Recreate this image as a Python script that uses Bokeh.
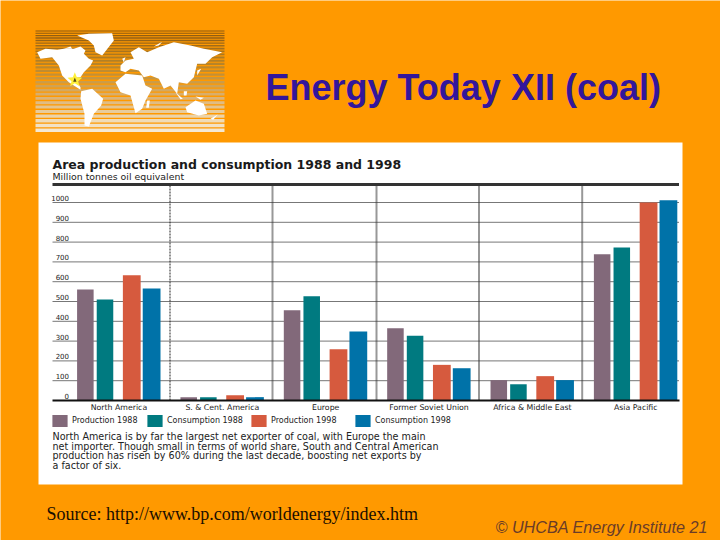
from bokeh.plotting import figure
from bokeh.core.properties import value
from bokeh.models import FixedTicker, Legend, LegendItem, LinearAxis, Range1d
from bokeh.embed import file_html
from bokeh.resources import INLINE

# ---- chart data -------------------------------------------------------
regions = ["North America", "S. & Cent. America", "Europe",
           "Former Soviet Union", "Africa & Middle East", "Asia Pacific"]
production_1988 = [560, 17, 456, 365, 103, 739]
consumption_1988 = [510, 17, 527, 327, 82, 773]
production_1998 = [632, 27, 259, 180, 123, 1000]
consumption_1998 = [566, 17, 348, 163, 103, 1011]
y_ticks = [0, 100, 200, 300, 400, 500, 600, 700, 800, 900, 1000]
series_names = ["Production 1988", "Consumption 1988", "Production 1998", "Consumption 1998"]

chart_title = "Area production and consumption 1988 and 1998"
chart_subtitle = "Million tonnes oil equivalent"
body_lines = [
    "North America is by far the largest net exporter of coal, with Europe the main",
    "net importer. Though small in terms of world share, South and Central American",
    "production has risen by 60% during the last decade, boosting net exports by",
    "a factor of six.",
]

# ---- style ------------------------------------------------------------
ORANGE = "#FF9900"
COLORS = ["#82697A", "#007A80", "#D65A3E", "#0072A8"]
OFFSETS = [-0.325, -0.135, 0.124, 0.316]
WIDTHS = [0.16, 0.16, 0.172, 0.172]
LEGEND_PX = [52, 147, 251, 355]
PX_X0, PX_DX = 118.45, 103.36
PX_Y0, PX_DY = 400.0, 0.198


def X(px):
    return (px - PX_X0) / PX_DX


def Y(py):
    return (PX_Y0 - py) / PX_DY


p = figure(width=720, height=540, output_backend="svg", toolbar_location=None,
           x_range=Range1d(X(0), X(720)), y_range=Range1d(Y(540), Y(0)),
           x_axis_location=None, y_axis_location=None,
           min_border_left=0, min_border_right=0, min_border_top=0, min_border_bottom=0)
p.background_fill_color = ORANGE
p.border_fill_color = ORANGE
p.outline_line_color = None
p.xgrid.visible = False
p.ygrid.visible = False


def box(l, t, r, b, color):
    p.quad(left=[X(l)], right=[X(r)], top=[Y(t)], bottom=[Y(b)], fill_color=color, line_color=None)


def text(s, px, py, size, font="DejaVu Sans", color="#222222", style="normal"):
    p.text(x=[X(px)], y=[Y(py)], text=[s], text_font=value(font), text_font_size=size, text_color=color,
           text_font_style=style, text_baseline="middle", text_align="left")


# ---- map emblem (decoration) ------------------------------------------
stripe_colors = ["#8C5A10", "#8E5C12", "#905E12", "#946014", "#986416", "#9C6818", "#A06C1A", "#A4701C",
                 "#A8741E", "#AC7820", "#B07C22", "#B48024", "#B88428", "#BC882C", "#C08C30", "#C49036",
                 "#C8963E", "#CC9C48", "#D0A254", "#D4A860", "#D8AE6C", "#DCB478", "#E0BC84", "#E4C490",
                 "#E8CC9C", "#ECD4AA", "#F0DCB8", "#F2E2C6", "#F4E8D2"]
yy = 30.0
for i, c in enumerate(stripe_colors):
    h = 1.0 + i * 0.09
    box(35, yy, 224, yy + h, c)
    yy += h + 0.85 + (0.35 if i < 12 else 0.5)

land = [
    [(20, 95), (45, 85), (80, 88), (100, 85), (130, 85), (150, 78), (165, 90), (160, 100), (175, 115), (188, 120),
     (180, 135), (160, 155), (150, 170), (130, 172), (150, 200), (150, 208), (130, 195), (115, 185), (95, 165),
     (85, 135), (65, 110), (30, 115)],
    [(152, 212), (185, 205), (218, 235), (212, 255), (190, 280), (175, 318), (162, 315), (162, 280), (150, 235)],
    [(140, 45), (175, 40), (245, 38), (250, 60), (215, 105), (195, 95), (190, 75), (175, 60)],
    [(270, 135), (285, 120), (310, 115), (300, 95), (325, 80), (350, 95), (385, 80), (430, 65), (480, 75), (520, 85),
     (575, 95), (545, 110), (525, 130), (500, 130), (490, 170), (470, 190), (445, 185), (440, 220), (420, 195),
     (400, 205), (385, 175), (360, 165), (340, 170), (325, 150), (300, 145), (285, 155), (270, 150)],
    [(255, 185), (285, 160), (335, 165), (345, 195), (365, 205), (345, 240), (335, 265), (315, 278), (300, 225),
     (270, 215)],
    [(465, 260), (495, 240), (520, 250), (530, 280), (505, 285), (470, 275)],
    [(350, 240), (358, 240), (355, 262), (347, 262)],
    [(500, 150), (512, 145), (500, 165)],
    [(275, 115), (285, 110), (280, 125)],
    [(460, 212), (470, 212), (468, 225), (460, 225)],
    [(540, 295), (562, 282), (548, 298)],
    [(370, 78), (395, 64), (385, 75)],
    [(435, 215), (457, 235), (450, 236)],
    [(495, 228), (520, 232), (510, 238)],
    [(100, 85), (120, 78), (125, 85)],
]


def poly(pts, color):
    p.patch(x=[X(30 + a / 3) for a, b in pts], y=[Y(20 + b / 3) for a, b in pts], fill_color=color, line_color=None)


for pts in land:
    poly(pts, "white")
poly([(133, 155), (139, 170), (155, 172), (143, 182), (147, 197), (133, 188), (119, 197), (123, 182), (111, 172),
      (127, 170)], "#FFF03A")
poly([(133, 171), (138, 184), (128, 184)], "#5A4A10")

# ---- chart panel ------------------------------------------------------
box(38, 142, 682, 484, "white")

p.segment(x0=[X(52)] * 10, x1=[X(678.5)] * 10, y0=y_ticks[1:], y1=y_ticks[1:], line_color="#777777", line_width=1)
for i, px in enumerate([169.5, 272, 376, 478.5, 581.7]):
    p.line(x=[X(px), X(px)], y=[0, Y(184)], line_color="#222222" if i == 0 else "#333333",
           line_width=1 if i == 0 else 2, line_dash="2 1" if i == 0 else "1 1")
p.line(x=[X(52), X(678.5)], y=[Y(184), Y(184)], line_color="#333333", line_width=3)

# axes drawn inside the panel
xaxis = LinearAxis(fixed_location=0, bounds=(X(52), X(678.5)), ticker=FixedTicker(ticks=list(range(len(regions)))),
                   major_label_overrides={i: r for i, r in enumerate(regions)},
                   major_tick_line_color=None, minor_tick_line_color=None,
                   major_tick_out=0, major_tick_in=0,
                   axis_line_color="#111111", axis_line_width=2, major_label_standoff=2,
                   major_label_text_font="DejaVu Sans", major_label_text_font_size="7.8px",
                   major_label_text_color="#222222")
p.add_layout(xaxis, "below")

label_lift = 4.5 / PX_DY  # tick labels sit just above their rules
p.extra_y_ranges["tick_labels"] = Range1d(Y(540) - label_lift, Y(0) - label_lift)
yaxis = LinearAxis(y_range_name="tick_labels", fixed_location=X(68.5), bounds=(0, 1000),
                   ticker=FixedTicker(ticks=y_ticks),
                   major_tick_line_color=None, minor_tick_line_color=None, axis_line_color=None,
                   major_tick_out=0, major_tick_in=0,
                   major_label_standoff=0, major_label_text_font="DejaVu Sans", major_label_text_font_size="7px",
                   major_label_text_color="#222222")
p.add_layout(yaxis, "left")

# bars
series = [production_1988, consumption_1988, production_1998, consumption_1998]
xs = list(range(len(regions)))
bars = []
for vals, off, w, col in zip(series, OFFSETS, WIDTHS, COLORS):
    bars.append(p.vbar(x=[i + off for i in xs], top=vals, bottom=0, width=w, fill_color=col, line_color=None))

# legend: one box per entry, placed where the reference has them
for px, name, r in zip(LEGEND_PX, series_names, bars):
    leg = Legend(items=[LegendItem(label=name, renderers=[r])], location=(px - 2, 540 - 428),
                 background_fill_alpha=0, border_line_color=None, padding=0, margin=0, spacing=0,
                 glyph_width=19, glyph_height=15, label_standoff=3, label_height=15,
                 label_text_font="DejaVu Sans", label_text_font_size="8px", label_text_color="#222222")
    p.add_layout(leg, "center")

# ---- texts ------------------------------------------------------------
text("Energy Today XII (coal)", 265, 86.5, "36px", "Liberation Sans", "#33169B", "bold")
text(chart_title, 52, 163.5, "12.5px", "DejaVu Sans", "#1A1A1A", "bold")
text(chart_subtitle, 52, 175.5, "9.4px")
for i, line in enumerate(body_lines):
    text(line, 52, 436 + 9.5 * i, "9.6px")
text("Source: http://www.bp.com/worldenergy/index.htm", 46, 513, "18px", "Liberation Serif", "#1A0E00")
text("\u00a9 UHCBA Energy Institute 21", 495, 526, "16.2px", "Liberation Sans", "#6A3C28", "italic")

open("out.html", "w").write(file_html(p, INLINE))
